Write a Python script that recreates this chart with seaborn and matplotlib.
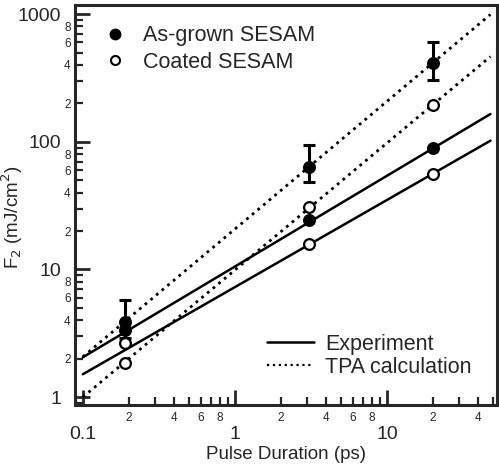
import matplotlib
matplotlib.use("Agg")
import matplotlib.pyplot as plt
import matplotlib.ticker as mticker
from matplotlib.lines import Line2D
import seaborn as sns
import pandas as pd
import numpy as np

# ---- data ----
pulse_ps = [0.19, 3.07, 20.0]
asgrown_tpa = [3.9, 64.0, 414.0]          # filled points with error bars
asgrown_err_low = [2.9, 48.0, 305.0]
asgrown_err_high = [5.8, 95.0, 604.0]
asgrown_exp = [3.35, 24.6, 90.0]          # filled points on solid line
coated_tpa = [1.85, 31.0, 195.0]          # open points on dotted line
coated_exp = [2.64, 15.7, 56.0]           # open points on solid line

line_x = [0.1, 48.0]
asgrown_exp_line = [2.05, 165.0]
coated_exp_line = [1.51, 102.0]
asgrown_tpa_line = [2.07, 994.0]
coated_tpa_line = [1.0, 465.0]

legend_samples = ["As-grown SESAM", "Coated SESAM"]
legend_lines = ["Experiment", "TPA calculation"]

sns.set_style("ticks")
plt.rcParams["font.family"] = ["Liberation Sans", "DejaVu Sans"]

fig = plt.figure(figsize=(4.99, 4.71), dpi=100)
ax = fig.add_axes([0.150, 0.140, 0.846, 0.849])

lw = 1.8
# lines
for yv, ls in [(asgrown_exp_line, "-"), (coated_exp_line, "-"),
               (asgrown_tpa_line, ":"), (coated_tpa_line, ":")]:
    df = pd.DataFrame({"x": line_x, "y": yv})
    sns.lineplot(data=df, x="x", y="y", ax=ax, color="black",
                 linestyle=ls, linewidth=lw if ls == "-" else 2.0,
                 estimator=None, sort=False, legend=False)

# error bars
yerr = [np.array(asgrown_tpa) - np.array(asgrown_err_low),
        np.array(asgrown_err_high) - np.array(asgrown_tpa)]
ax.errorbar(pulse_ps, asgrown_tpa, yerr=yerr, fmt="none", ecolor="black",
            elinewidth=2.2, capsize=4.5, capthick=2.2, zorder=3)

ms = 60
for yv, filled in [(asgrown_tpa, True), (asgrown_exp, True),
                   (coated_tpa, False), (coated_exp, False)]:
    df = pd.DataFrame({"x": pulse_ps, "y": yv})
    sns.scatterplot(data=df, x="x", y="y", ax=ax, s=ms,
                    color="black" if filled else "white",
                    edgecolor="black", linewidth=1.6, zorder=4, legend=False)

ax.set_xscale("log")
ax.set_yscale("log")
ax.set_xlim(0.0886, 53)
ax.set_ylim(0.866, 1175)

# ticks
ax.xaxis.set_major_locator(mticker.FixedLocator([0.1, 1, 10]))
ax.yaxis.set_major_locator(mticker.FixedLocator([1, 10, 100, 1000]))
ax.xaxis.set_minor_locator(mticker.LogLocator(base=10, subs=np.arange(2, 10)))
ax.yaxis.set_minor_locator(mticker.LogLocator(base=10, subs=np.arange(2, 10)))
ax.xaxis.set_major_formatter(mticker.FixedFormatter(["0.1", "1", "10"]))
ax.yaxis.set_major_formatter(mticker.FixedFormatter(["1", "10", "100", "1000"]))


def minor_fmt(v, pos):
    if v <= 0:
        return ""
    mant = v / 10 ** np.floor(np.log10(v) + 1e-9)
    d = int(round(mant))
    return str(d) if d in (2, 4, 6, 8) else ""


ax.xaxis.set_minor_formatter(mticker.FuncFormatter(minor_fmt))
ax.yaxis.set_minor_formatter(mticker.FuncFormatter(minor_fmt))

ax.tick_params(which="major", direction="in", length=11, width=2,
               labelsize=14, top=False, right=False)
ax.tick_params(which="minor", direction="in", length=6, width=1.6,
               labelsize=8.5, top=False, right=False, pad=3)
ax.tick_params(axis="x", which="minor", pad=5)
ax.tick_params(axis="x", which="major", pad=15)
ax.tick_params(axis="y", which="major", pad=10)

for sp in ax.spines.values():
    sp.set_linewidth(2.2)
    sp.set_visible(True)

ax.set_xlabel("Pulse Duration (ps)", fontsize=13.5)
ax.xaxis.set_label_coords(0.5, -0.103)
ax.set_ylabel("F$_2$ (mJ/cm$^2$)", fontsize=13.5)
ax.yaxis.set_label_coords(-0.118, 0.47)

# legends
h1 = [Line2D([], [], marker="o", color="black", linestyle="none",
             markersize=7.5, markerfacecolor="black"),
      Line2D([], [], marker="o", color="black", linestyle="none",
             markersize=6.5, markerfacecolor="white", markeredgewidth=1.5)]
leg1 = ax.legend(h1, legend_samples, loc="upper left", frameon=False,
                 fontsize=15.5, handletextpad=0.5, borderaxespad=0.5,
                 labelspacing=0.25, handlelength=1.6,
                 bbox_to_anchor=(0.008, 0.998))
ax.add_artist(leg1)
h2 = [Line2D([], [], color="black", linestyle="-", linewidth=lw),
      Line2D([], [], color="black", linestyle=":", linewidth=1.6)]
ax.legend(h2, legend_lines, loc="lower right", frameon=False,
          fontsize=15.5, handlelength=2.2, handletextpad=0.5,
          labelspacing=0.1, bbox_to_anchor=(0.985, 0.02))

fig.savefig("out.png", dpi=100)
